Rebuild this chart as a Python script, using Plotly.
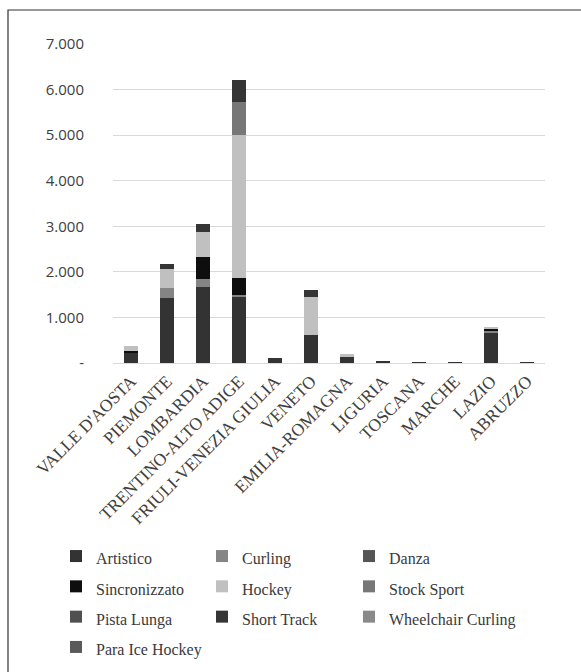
import plotly.graph_objects as go

regions = ["VALLE D'AOSTA", "PIEMONTE", "LOMBARDIA", "TRENTINO-ALTO ADIGE",
           "FRIULI-VENEZIA GIULIA", "VENETO", "EMILIA-ROMAGNA", "LIGURIA",
           "TOSCANA", "MARCHE", "LAZIO", "ABRUZZO"]

artistico = [210, 1420, 1670, 1450, 85, 610, 140, 50, 8, 4, 680, 8]
curling = [0, 220, 180, 50, 0, 0, 0, 0, 0, 0, 25, 0]
danza = [0, 0, 0, 0, 0, 0, 0, 0, 0, 0, 0, 0]
sincronizzato = [50, 0, 470, 365, 0, 0, 0, 0, 0, 0, 55, 0]
hockey = [115, 415, 560, 3135, 0, 840, 50, 0, 0, 0, 35, 0]
stock_sport = [0, 0, 0, 730, 0, 0, 0, 0, 0, 0, 0, 0]
pista_lunga = [0, 0, 0, 0, 0, 0, 0, 0, 0, 0, 0, 0]
short_track = [0, 110, 170, 475, 20, 160, 0, 0, 0, 0, 0, 0]
wheelchair_curling = [0, 0, 0, 0, 0, 0, 0, 0, 0, 0, 0, 0]
para_ice_hockey = [0, 0, 0, 0, 0, 0, 0, 0, 0, 0, 0, 0]

series_names = ["Artistico", "Curling", "Danza", "Sincronizzato", "Hockey",
                "Stock Sport", "Pista Lunga", "Short Track",
                "Wheelchair Curling", "Para Ice Hockey"]
series_values = [artistico, curling, danza, sincronizzato, hockey,
                 stock_sport, pista_lunga, short_track,
                 wheelchair_curling, para_ice_hockey]
series_colors = ["#333333", "#858585", "#555555", "#0e0e0e", "#c0c0c0",
                 "#777777", "#505050", "#353535", "#8a8a8a", "#5a5a5a"]

y_tickvals = [0, 1000, 2000, 3000, 4000, 5000, 6000, 7000]
y_ticktext = ["-", "1.000", "2.000", "3.000", "4.000", "5.000", "6.000", "7.000"]

# legend entries are laid out in three columns, filled row by row
legend_ids = ["legend", "legend2", "legend3"]

fig = go.Figure()
for i, (name, vals, col) in enumerate(zip(series_names, series_values, series_colors)):
    fig.add_trace(go.Bar(
        x=regions, y=vals,
        name="<span style='font-size:16px'>" + name + "</span>",
        marker=dict(color=col, line=dict(width=0)),
        legend=legend_ids[i % 3],
    ))

legend_common = dict(
    orientation="v",
    xanchor="left",
    y=-0.542, yanchor="top",
    font=dict(family="Liberation Serif", size=21, color="#3a3a3a"),
    bgcolor="rgba(0,0,0,0)",
    traceorder="normal",
)

fig.update_layout(
    barmode="stack",
    bargap=0.6,
    width=581, height=672,
    margin=dict(l=113, r=36, t=44, b=309, autoexpand=False),
    paper_bgcolor="white",
    plot_bgcolor="white",
    showlegend=True,
    legend=dict(x=(56 - 113) / 432, **legend_common),
    legend2=dict(x=(202 - 113) / 432, **legend_common),
    legend3=dict(x=(349 - 113) / 432, **legend_common),
    xaxis=dict(
        tickangle=-45,
        tickfont=dict(family="Liberation Serif", size=17.5, color="#404040"),
        showgrid=False,
        showline=True, linecolor="#d9d9d9", linewidth=1.3,
        ticks="",
    ),
    yaxis=dict(
        range=[0, 7000],
        tickvals=y_tickvals, ticktext=y_ticktext,
        tickfont=dict(family="Open Sans", size=15, color="#404040"),
        showgrid=True, gridcolor="#d9d9d9", gridwidth=1.3,
        zeroline=False, showline=False,
        ticks="outside", ticklen=25, tickcolor="rgba(0,0,0,0)",
    ),
    shapes=[dict(type="rect", xref="paper", yref="paper",
                 x0=(8 - 113) / 432, x1=(590 - 113) / 432,
                 y0=(363 - 690) / 319, y1=(363 - 10) / 319,
                 line=dict(color="#333333", width=1.2),
                 fillcolor="rgba(0,0,0,0)", layer="below")],
)

fig.write_html("out.html")
